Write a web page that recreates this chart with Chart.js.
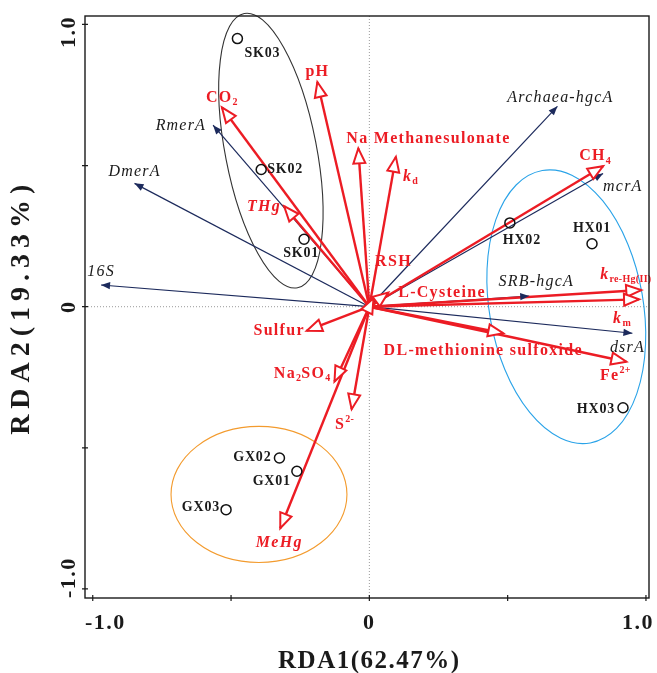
<!DOCTYPE html>
<html>
<head>
<meta charset="utf-8">
<script src="https://cdn.jsdelivr.net/npm/chart.js@4.4.0/dist/chart.umd.min.js"></script>
<style>
  html, body { margin: 0; padding: 0; background: #fff; }
  #rda { display: block; }
</style>
</head>
<body>
<canvas id="rda" width="657" height="673"></canvas>
<script>
// site scores
const siteNames = ['SK01', 'SK02', 'SK03', 'HX01', 'HX02', 'HX03', 'GX01', 'GX02', 'GX03'];
const siteX = [-0.236, -0.391, -0.477, 0.805, 0.508, 0.917, -0.262, -0.325, -0.518];
const siteY = [0.239, 0.486, 0.950, 0.223, 0.297, -0.358, -0.583, -0.536, -0.719];

// gene arrows (navy)
const geneNames = ['16S', 'DmerA', 'RmerA', 'Archaea-hgcA', 'mcrA', 'SRB-hgcA', 'dsrA'];
const geneX = [-0.970, -0.849, -0.565, 0.680, 0.845, 0.578, 0.951];
const geneY = [0.077, 0.437, 0.643, 0.710, 0.472, 0.038, -0.094];

// environmental arrows (red)
const envNames = ['CO_{2}', 'pH', 'Na Methanesulonate', 'THg', 'k_{d}', 'RSH', 'L-Cysteine', 'CH_{4}',
  'k_{re-Hg(II)}', 'k_{m}', 'DL-methionine sulfoxide', 'Fe^{2+}', 'Sulfur', 'Na_{2}SO_{4}', 'S^{2-}', 'MeHg'];
const envX = [-0.533, -0.188, -0.040, -0.308, 0.096, 0.015, 0.068, 0.845, 0.983, 0.975, 0.484, 0.929, -0.226, -0.126, -0.064, -0.322];
const envY = [0.706, 0.796, 0.561, 0.356, 0.531, 0.030, 0.050, 0.498, 0.059, 0.026, -0.094, -0.195, -0.085, -0.265, -0.363, -0.785];

// group ellipses (centre, half axes in axis units, tilt in degrees)
const groupNames = ['SK', 'HX', 'GX'];
const groupCX = [-0.356, 0.712, -0.399];
const groupCY = [0.553, 0.000, -0.665];
const groupRX = [0.165, 0.278, 0.318];
const groupRY = [0.495, 0.490, 0.241];
const groupTilt = [-11, -10, 0];

const tickValues = [-1, -0.5, 0, 0.5, 1];
const tickLabels = ['-1.0', '', '0', '', '1.0'];
const xTitle = 'RDA1(62.47%)';
const yTitle = 'RDA2(19.33%)';

const SERIF = '"Liberation Serif", "Times New Roman", serif';
const RED = '#ec1c24';
const NAVY = '#1c2a5c';
const groupColors = ['#333333', '#2aa3e8', '#f39b2e'];
const italicEnv = ['THg', 'MeHg', 'k_{d}', 'k_{re-Hg(II)}', 'k_{m}'];

// label placement relative to the mark, in px: [dx, dy, align]
const siteLabelPos = {
  SK01: [-3, 14, 'center'], SK02: [6, 0, 'left'], SK03: [7, 15, 'left'],
  HX01: [0, -15, 'center'], HX02: [12, 18, 'center'], HX03: [-8, 2, 'right'],
  GX01: [-6, 10, 'right'], GX02: [-8, -1, 'right'], GX03: [-6, -2, 'right'],
};
const geneLabelPos = {
  '16S': [0, -13, 'center'], DmerA: [0, -12, 'center'], RmerA: [-7, 1, 'right'],
  'Archaea-hgcA': [3, -9, 'center'], mcrA: [0, 13, 'left'], 'SRB-hgcA': [7, -14, 'center'],
  dsrA: [-5, 15, 'center'],
};
const envLabelPos = {
  'CO_{2}': [0, -10, 'center'], pH: [0, -10, 'center'], 'Na Methanesulonate': [-12, -10, 'left'],
  THg: [-3, 1, 'right'], 'k_{d}': [7, 20, 'left'], RSH: [20, -36, 'center'], 'L-Cysteine': [10, 0, 'left'],
  'CH_{4}': [-8, -10, 'center'], 'k_{re-Hg(II)}': [-41, -15, 'left'], 'k_{m}': [-17, 19, 'center'],
  'DL-methionine sulfoxide': [-20, 18, 'center'], 'Fe^{2+}': [-11, 14, 'center'], Sulfur: [-2, 0, 'right'],
  'Na_{2}SO_{4}': [-4, -8, 'right'], 'S^{2-}': [-7, 16, 'center'], MeHg: [-1, 15, 'center'],
};

function parseRich(s) {
  const parts = [];
  const re = /([_^])\{([^}]*)\}/g;
  let last = 0, m;
  while ((m = re.exec(s))) {
    if (m.index > last) parts.push({ t: s.slice(last, m.index), k: 'n' });
    parts.push({ t: m[2], k: m[1] === '_' ? 'sub' : 'sup' });
    last = re.lastIndex;
  }
  if (last < s.length) parts.push({ t: s.slice(last), k: 'n' });
  return parts;
}

function drawRich(ctx, s, x, y, align, f) {
  const parts = parseRich(s);
  const fontFor = k => `${k === 'n' && f.italic ? 'italic ' : ''}${f.weight} ${k === 'n' ? f.size : Math.round(f.size * 0.6)}px ${SERIF}`;
  const setStyle = k => {
    ctx.font = fontFor(k);
    ctx.letterSpacing = (k === 'n' ? (f.spacing || 0) : 0.3) + 'px';
  };
  let w = 0;
  parts.forEach(p => { setStyle(p.k); p.w = ctx.measureText(p.t).width; w += p.w; });
  let cx = align === 'left' ? x : align === 'right' ? x - w : x - w / 2;
  ctx.fillStyle = f.color;
  ctx.textAlign = 'left';
  ctx.textBaseline = 'middle';
  parts.forEach(p => {
    setStyle(p.k);
    const dy = p.k === 'sub' ? f.size * 0.3 : p.k === 'sup' ? -f.size * 0.35 : 0;
    ctx.fillText(p.t, cx, y + dy);
    cx += p.w;
  });
  ctx.letterSpacing = '0px';
}

function arrowHead(ctx, ox, oy, tx, ty, len, hw, hollow, color) {
  const a = Math.atan2(ty - oy, tx - ox);
  const bx = tx - len * Math.cos(a), by = ty - len * Math.sin(a);
  const nx = -Math.sin(a) * hw, ny = Math.cos(a) * hw;
  ctx.beginPath();
  ctx.moveTo(tx, ty);
  ctx.lineTo(bx + nx, by + ny);
  ctx.lineTo(bx - nx, by - ny);
  ctx.closePath();
  if (hollow) {
    ctx.fillStyle = '#fff';
    ctx.fill();
    ctx.lineWidth = 2;
    ctx.strokeStyle = color;
    ctx.lineJoin = 'miter';
    ctx.stroke();
  } else {
    ctx.fillStyle = color;
    ctx.fill();
  }
}

const biplotPlugin = {
  id: 'biplot',
  beforeDatasetsDraw(chart) {
    const { ctx, chartArea: a, scales: { x, y } } = chart;
    ctx.save();
    // dotted zero lines
    ctx.strokeStyle = '#9a9a9a';
    ctx.lineWidth = 1;
    ctx.setLineDash([1, 2]);
    ctx.beginPath();
    ctx.moveTo(x.getPixelForValue(0), a.top);
    ctx.lineTo(x.getPixelForValue(0), a.bottom);
    ctx.moveTo(a.left, y.getPixelForValue(0));
    ctx.lineTo(a.right, y.getPixelForValue(0));
    ctx.stroke();
    ctx.setLineDash([]);
    // group ellipses
    const pxX = x.getPixelForValue(1) - x.getPixelForValue(0);
    const pxY = y.getPixelForValue(0) - y.getPixelForValue(1);
    groupNames.forEach((g, i) => {
      ctx.beginPath();
      ctx.ellipse(x.getPixelForValue(groupCX[i]), y.getPixelForValue(groupCY[i]),
        groupRX[i] * pxX, groupRY[i] * pxY, groupTilt[i] * Math.PI / 180, 0, Math.PI * 2);
      ctx.strokeStyle = groupColors[i];
      ctx.lineWidth = 1.1;
      ctx.stroke();
    });
    ctx.restore();
  },
  afterDatasetsDraw(chart) {
    const { ctx, chartArea: a, scales: { x, y } } = chart;
    const ox = x.getPixelForValue(0), oy = y.getPixelForValue(0);
    ctx.save();
    geneNames.forEach((n, i) => {
      arrowHead(ctx, ox, oy, x.getPixelForValue(geneX[i]), y.getPixelForValue(geneY[i]), 9, 3.6, false, NAVY);
    });
    envNames.forEach((n, i) => {
      arrowHead(ctx, ox, oy, x.getPixelForValue(envX[i]), y.getPixelForValue(envY[i]), 15, 6, true, RED);
    });

    // labels
    geneNames.forEach((n, i) => {
      const [dx, dy, al] = geneLabelPos[n];
      drawRich(ctx, n, x.getPixelForValue(geneX[i]) + dx, y.getPixelForValue(geneY[i]) + dy, al,
        { size: 16, weight: 'normal', italic: true, color: '#1a1a1a', spacing: 1.2 });
    });
    envNames.forEach((n, i) => {
      const [dx, dy, al] = envLabelPos[n];
      drawRich(ctx, n, x.getPixelForValue(envX[i]) + dx, y.getPixelForValue(envY[i]) + dy, al,
        { size: 16, weight: 'bold', italic: italicEnv.includes(n), color: RED, spacing: 1.3 });
    });
    siteNames.forEach((n, i) => {
      const [dx, dy, al] = siteLabelPos[n];
      drawRich(ctx, n, x.getPixelForValue(siteX[i]) + dx, y.getPixelForValue(siteY[i]) + dy, al,
        { size: 14, weight: 'bold', italic: false, color: '#1a1a1a', spacing: 0.8 });
    });

    // frame
    ctx.strokeStyle = '#1a1a1a';
    ctx.lineWidth = 1.4;
    ctx.strokeRect(a.left, a.top, a.right - a.left, a.bottom - a.top);

    // ticks crossing the left and bottom axes
    ctx.lineWidth = 1.2;
    ctx.beginPath();
    tickValues.forEach(v => {
      const px = x.getPixelForValue(v), py = y.getPixelForValue(v);
      ctx.moveTo(px, a.bottom - 3); ctx.lineTo(px, a.bottom + 3);
      ctx.moveTo(a.left - 3, py); ctx.lineTo(a.left + 3, py);
    });
    ctx.stroke();

    // tick labels
    ctx.fillStyle = '#1a1a1a';
    ctx.font = `bold 22px ${SERIF}`;
    ctx.letterSpacing = '1.5px';
    ctx.textBaseline = 'middle';
    ctx.textAlign = 'left';
    tickValues.forEach((v, i) => {
      const t = tickLabels[i];
      if (!t) return;
      const w = ctx.measureText(t).width;
      let cx = x.getPixelForValue(v) - w / 2;
      cx = Math.max(a.left, Math.min(cx, 654 - w));
      ctx.fillText(t, cx, 623);
    });
    tickValues.forEach((v, i) => {
      const t = tickLabels[i];
      if (!t) return;
      const w = ctx.measureText(t).width;
      let cy = y.getPixelForValue(v) + w / 2;
      cy = Math.min(a.bottom, Math.max(cy, a.top + w));
      ctx.save();
      ctx.translate(69, cy);
      ctx.rotate(-Math.PI / 2);
      ctx.fillText(t, 0, 0);
      ctx.restore();
    });

    // axis titles
    ctx.font = `bold 25px ${SERIF}`;
    ctx.textAlign = 'center';
    ctx.letterSpacing = '1.5px';
    ctx.fillText(xTitle, (x.getPixelForValue(0)), 662);
    ctx.save();
    ctx.translate(22, y.getPixelForValue(0));
    ctx.rotate(-Math.PI / 2);
    ctx.font = `bold 28px ${SERIF}`;
    ctx.letterSpacing = '6px';
    ctx.fillText(yTitle, 0, 0);
    ctx.restore();
    ctx.restore();
  }
};

const datasets = [{
  label: 'sites',
  data: siteNames.map((n, i) => ({ x: siteX[i], y: siteY[i] })),
  pointRadius: 5,
  pointBorderWidth: 1.5,
  pointBorderColor: '#111',
  pointBackgroundColor: 'rgba(0,0,0,0)',
  showLine: false,
  order: 0,
}];
envNames.forEach((n, i) => datasets.push({
  label: n,
  data: [{ x: 0, y: 0 }, { x: envX[i], y: envY[i] }],
  showLine: true,
  borderColor: RED,
  borderWidth: 2.4,
  pointRadius: 0,
  order: 1,
}));
geneNames.forEach((n, i) => datasets.push({
  label: n,
  data: [{ x: 0, y: 0 }, { x: geneX[i], y: geneY[i] }],
  showLine: true,
  borderColor: NAVY,
  borderWidth: 1.2,
  pointRadius: 0,
  order: 2,
}));

new Chart(document.getElementById('rda'), {
  type: 'scatter',
  data: { datasets },
  options: {
    responsive: false,
    animation: false,
    devicePixelRatio: 1,
    layout: { padding: { left: 85, top: 16, right: 8, bottom: 75 } },
    plugins: { legend: { display: false }, tooltip: { enabled: false } },
    scales: {
      x: { type: 'linear', min: -1.028, max: 1.011, display: false },
      y: { type: 'linear', min: -1.032, max: 1.030, display: false },
    },
  },
  plugins: [biplotPlugin],
});
</script>
</body>
</html>
